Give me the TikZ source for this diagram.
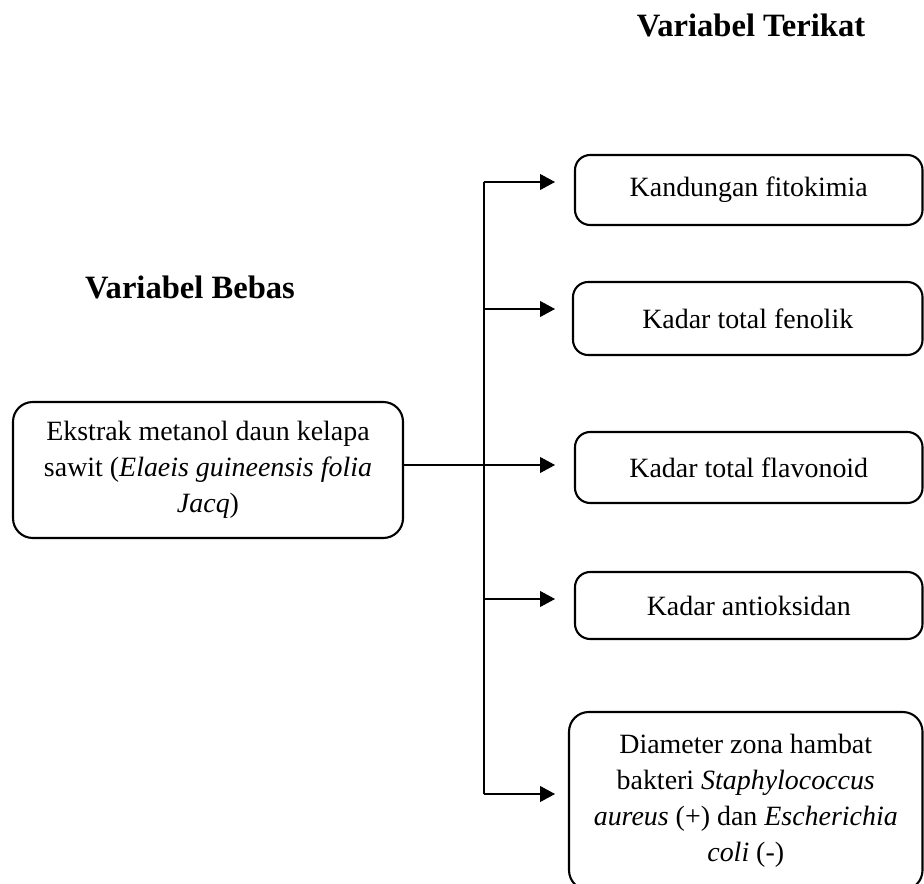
\documentclass[tikz,border=0pt]{standalone}
\usepackage{fontspec}
\setmainfont{Liberation Serif}
\usetikzlibrary{arrows.meta}

\begin{document}
\begin{tikzpicture}[x=0.0151cm,y=-0.0151cm]
\tikzstyle{varbox}=[draw,line width=0.9pt,rounded corners=6.5pt,align=center,inner sep=0pt,font=\fontsize{12}{15.5}\selectfont]
\tikzstyle{bigbox}=[varbox,rounded corners=8.5pt]
\tikzstyle{head}=[font=\fontsize{14}{16}\selectfont\bfseries]
\tikzstyle{arr}=[line width=0.5pt,-{Triangle[length=6.4pt,width=6.8pt]}]
\clip (0,0) rectangle (924,884);
\node[head] (terikat) at (751,25) {Variabel Terikat};
\node[head] (bebas) at (190,287) {Variabel Bebas};
\node[bigbox,minimum width=390*0.0151cm,minimum height=136*0.0151cm] (ekstrak) at (208,470) {Ekstrak metanol daun kelapa\\ sawit (\textit{Elaeis guineensis folia}\\ \textit{Jacq})};
\node[varbox,minimum width=347.5*0.0151cm,minimum height=70*0.0151cm] (fito) at (748.75,190) {Kandungan fitokimia};
\node[varbox,minimum width=349.5*0.0151cm,minimum height=73*0.0151cm] (fenol) at (747.75,318.5) {Kadar total fenolik};
\node[varbox,minimum width=347.5*0.0151cm,minimum height=71*0.0151cm] (flavo) at (748.75,467.5) {Kadar total flavonoid};
\node[varbox,minimum width=347.5*0.0151cm,minimum height=67*0.0151cm] (antiok) at (748.75,605.5) {Kadar antioksidan};
\node[bigbox,minimum width=353.5*0.0151cm,minimum height=178*0.0151cm] (zona) at (745.75,801) {Diameter zona hambat\\ bakteri \textit{Staphylococcus}\\ \textit{aureus} (+) dan \textit{Escherichia}\\ \textit{coli} (-)};
\coordinate (j1) at (484,182);
\coordinate (j2) at (484,309);
\coordinate (j3) at (484,465);
\coordinate (j4) at (484,599);
\coordinate (j5) at (484,794);
\coordinate (t1) at (555,182);
\coordinate (t2) at (555,309);
\coordinate (t3) at (555,465);
\coordinate (t4) at (555,599);
\coordinate (t5) at (555,794);
\draw [line width=0.5pt] (j1) -- (j5);
\draw [line width=0.5pt] (ekstrak.east |- j3) -- (j3);
\draw [arr] (j1) -- (t1);
\draw [arr] (j2) -- (t2);
\draw [arr] (j3) -- (t3);
\draw [arr] (j4) -- (t4);
\draw [arr] (j5) -- (t5);
\end{tikzpicture}
\end{document}
